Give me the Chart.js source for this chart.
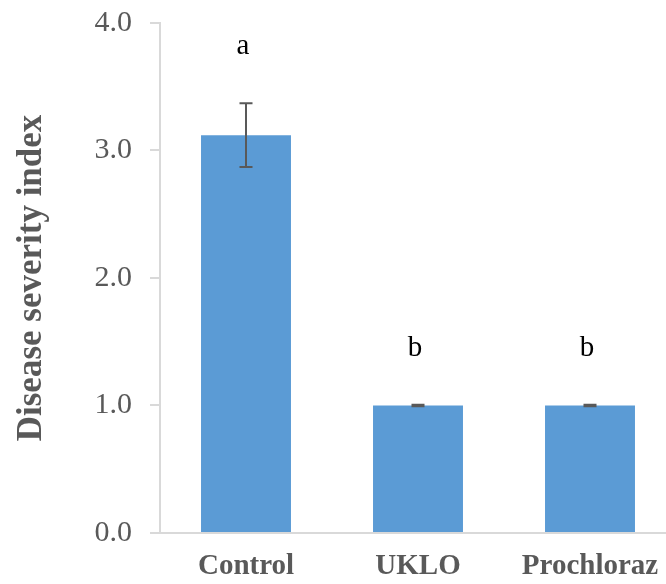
<!DOCTYPE html>
<html>
<head>
<meta charset="utf-8">
<script src="https://cdn.jsdelivr.net/npm/chart.js@4.4.1/dist/chart.umd.min.js"></script>
<style>
  html, body { margin: 0; padding: 0; background: #fff; overflow: hidden; width: 666px; height: 584px; }
  #wrap { width: 676px; height: 584px; position: relative; }
</style>
</head>
<body>
<div id="wrap"><canvas id="c"></canvas></div>
<script>
const categories = ['Control', 'UKLO', 'Prochloraz'];
const severity = [3.12, 1.0, 1.0];
const errors = [0.25, 0.005, 0.005];
const letters = ['a', 'b', 'b'];
const yTicks = [0, 1, 2, 3, 4];

const GRAY = '#595959';
const AXIS = '#d9d9d9';

const annotate = {
  id: 'annotate',
  afterDatasetsDraw(chart) {
    const ctx = chart.ctx;
    const meta = chart.getDatasetMeta(0);
    const y = chart.scales.y;
    ctx.save();
    meta.data.forEach((bar, i) => {
      const x = bar.x;
      const top = y.getPixelForValue(severity[i] + errors[i]);
      const bot = y.getPixelForValue(severity[i] - errors[i]);
      ctx.strokeStyle = GRAY;
      ctx.lineWidth = 2;
      ctx.beginPath();
      ctx.moveTo(x, top); ctx.lineTo(x, bot);
      ctx.moveTo(x - 6.5, top); ctx.lineTo(x + 6.5, top);
      ctx.moveTo(x - 6.5, bot); ctx.lineTo(x + 6.5, bot);
      ctx.stroke();
      ctx.fillStyle = '#000';
      ctx.font = '29px "Liberation Serif", "Times New Roman", serif';
      ctx.textAlign = 'center';
      ctx.textBaseline = 'alphabetic';
      ctx.fillText(letters[i], x - 3, top - 49);
    });
    ctx.restore();
  }
};

new Chart(document.getElementById('c'), {
  type: 'bar',
  data: {
    labels: categories,
    datasets: [{
      data: severity,
      backgroundColor: '#5B9BD5',
      borderWidth: 0,
      barPercentage: 0.523,
      categoryPercentage: 1.0
    }]
  },
  options: {
    responsive: true,
    maintainAspectRatio: false,
    animation: false,
    layout: { padding: { top: 0, right: 0, bottom: 0, left: 0 } },
    plugins: { legend: { display: false }, tooltip: { enabled: false } },
    scales: {
      x: {
        grid: { display: false, drawTicks: false },
        border: { display: true, color: AXIS, width: 2 },
        ticks: {
          color: GRAY,
          padding: 16,
          font: { family: '"Liberation Serif", "Times New Roman", serif', size: 29, weight: 'bold' }
        },
        afterFit(s) { s.height = 51; }
      },
      y: {
        min: 0, max: 4,
        afterBuildTicks(s) { s.ticks = yTicks.map(v => ({ value: v })); },
        grid: { drawOnChartArea: false, drawTicks: true, tickLength: 10, color: AXIS, lineWidth: 2 },
        border: { display: true, color: AXIS, width: 2 },
        ticks: {
          color: GRAY,
          padding: 18,
          font: { family: '"Liberation Serif", "Times New Roman", serif', size: 30, lineHeight: 0.33 },
          callback: v => Number(v).toFixed(1)
        },
        title: {
          display: true,
          text: 'Disease severity index',
          color: GRAY,
          padding: { top: 11, bottom: 0 },
          font: { family: '"Liberation Serif", "Times New Roman", serif', size: 35, weight: 'bold' }
        },
        afterFit(s) { s.width = 160; }
      }
    }
  },
  plugins: [annotate]
});
</script>
</body>
</html>
